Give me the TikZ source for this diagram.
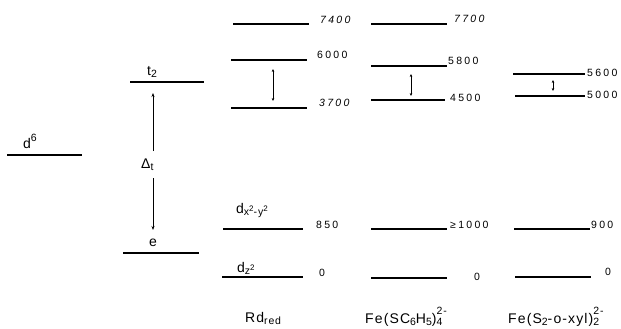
\documentclass[tikz,border=0pt]{standalone}
\usepackage{fontspec}
\usetikzlibrary{arrows.meta}
\setmainfont{Liberation Sans}
\newfontfamily\numfont[LetterSpace=22]{Liberation Sans}
\newfontfamily\labfont[LetterSpace=8]{Liberation Sans}
\newcommand\lsub[1]{\raisebox{-0.35ex}{\fontsize{10.5}{12}\selectfont #1}}
\newcommand\lsup[1]{\raisebox{0.85ex}{\fontsize{10.5}{12}\selectfont #1}}
\newcommand\ssup[1]{\raisebox{0.7ex}{\fontsize{8}{9}\selectfont #1}}
\begin{document}
\begin{tikzpicture}[x=1pt,y=-1pt,
  level/.style={line width=1.1pt},
  lab/.style={inner sep=0pt,anchor=base west,font=\labfont\fontsize{14}{16}\selectfont},
  num/.style={inner sep=0pt,anchor=base west,font=\numfont\fontsize{10.5}{12}\selectfont},
  gap/.style={line width=0.8pt,{Stealth[length=3pt,width=2.6pt]}-{Stealth[length=3pt,width=2.6pt]}},
  onearrow/.style={line width=0.8pt,-{Stealth[length=4pt,width=3pt]}}]
\useasboundingbox (0,0) rectangle (621,329);
% free ion
\coordinate (d6a) at (7,155); \coordinate (d6b) at (82,155);
\draw[level] (d6a) -- (d6b);
\node[lab] (d6) at (23,148) {d\lsup{6}};
% tetrahedral splitting
\coordinate (t2a) at (130,82); \coordinate (t2b) at (204,82);
\coordinate (ea) at (123,253); \coordinate (eb) at (199,253);
\draw[level] (t2a) -- (t2b);
\draw[level] (ea) -- (eb);
\node[lab] (t2) at (147,75) {t\lsub{2}};
\node[lab] (e) at (149,246) {e};
\node[lab] (delta) at (141,168) {Δ\lsub{t}};
\coordinate (up) at (153,93);
\coordinate (down) at (153,230);
\coordinate (du) at (153,151);
\coordinate (dd) at (153,178);
\draw[onearrow] (du) -- (up);
\draw[onearrow] (dd) -- (down);
% Rd_red
\coordinate (r1a) at (233,24); \coordinate (r1b) at (309,24);
\coordinate (r2a) at (231,60); \coordinate (r2b) at (307,60);
\coordinate (r3a) at (231,108); \coordinate (r3b) at (307,108);
\coordinate (r4a) at (223,229); \coordinate (r4b) at (303,229);
\coordinate (r5a) at (222,277); \coordinate (r5b) at (303,277);
\foreach \i in {1,...,5} \draw[level] (r\i a) -- (r\i b);
\node[num] (n7400) at (320,24) {\itshape 7400};
\node[num] (n6000) at (317,59) {6000};
\node[num] (n3700) at (319,106) {\itshape 3700};
\node[lab] (dxy) at (236,213) {d\lsub{x\ssup{2}-y\ssup{2}}};
\node[num] (n850) at (316,228) {850};
\node[lab] (dz) at (237,272) {d\lsub{z\ssup{2}}};
\node[num] (n0a) at (319,276) {0};
\coordinate (ra) at (273,69); \coordinate (rb) at (273,101);
\draw[gap] (ra) -- (rb);
\node[lab] (rd) at (245,322) {Rd\lsub{red}};
% Fe(SC6H5)4
\coordinate (f1a) at (371,24); \coordinate (f1b) at (447,24);
\coordinate (f2a) at (371,66); \coordinate (f2b) at (447,66);
\coordinate (f3a) at (371,100); \coordinate (f3b) at (445,100);
\coordinate (f4a) at (371,229); \coordinate (f4b) at (447,229);
\coordinate (f5a) at (371,278); \coordinate (f5b) at (447,278);
\foreach \i in {1,...,5} \draw[level] (f\i a) -- (f\i b);
\node[num] (n7700) at (454,23) {\itshape 7700};
\node[num] (n5800) at (448,65) {5800};
\node[num] (n4500) at (450,101) {4500};
\node[num] (n1000) at (450,228) {≥1000};
\node[num] (n0b) at (474,280) {0};
\coordinate (fa) at (411,74); \coordinate (fb) at (411,96);
\draw[gap] (fa) -- (fb);
\node[lab] (fe1) at (365,323) {Fe(SC\lsub{6}H\lsub{5})\rlap{\lsub{4}}\raisebox{1.1ex}{\fontsize{10.5}{12}\selectfont 2-}};
% Fe(S2-o-xyl)2
\coordinate (g1a) at (513,74); \coordinate (g1b) at (585,74);
\coordinate (g2a) at (515,96); \coordinate (g2b) at (585,96);
\coordinate (g4a) at (514,229); \coordinate (g4b) at (590,229);
\coordinate (g5a) at (515,277); \coordinate (g5b) at (591,277);
\foreach \i in {1,2,4,5} \draw[level] (g\i a) -- (g\i b);
\node[num] (n5600) at (587,77) {5600};
\node[num] (n5000) at (587,98) {5000};
\node[num] (n900) at (591,228) {900};
\node[num] (n0c) at (605,275) {0};
\coordinate (ga) at (553,80); \coordinate (gb) at (553,91);
\draw[gap] (ga) -- (gb);
\node[lab] (fe2) at (508,323) {Fe(S\lsub{2}-o-xyl)\rlap{\lsub{2}}\raisebox{1.1ex}{\fontsize{10.5}{12}\selectfont 2-}};
\end{tikzpicture}
\end{document}
